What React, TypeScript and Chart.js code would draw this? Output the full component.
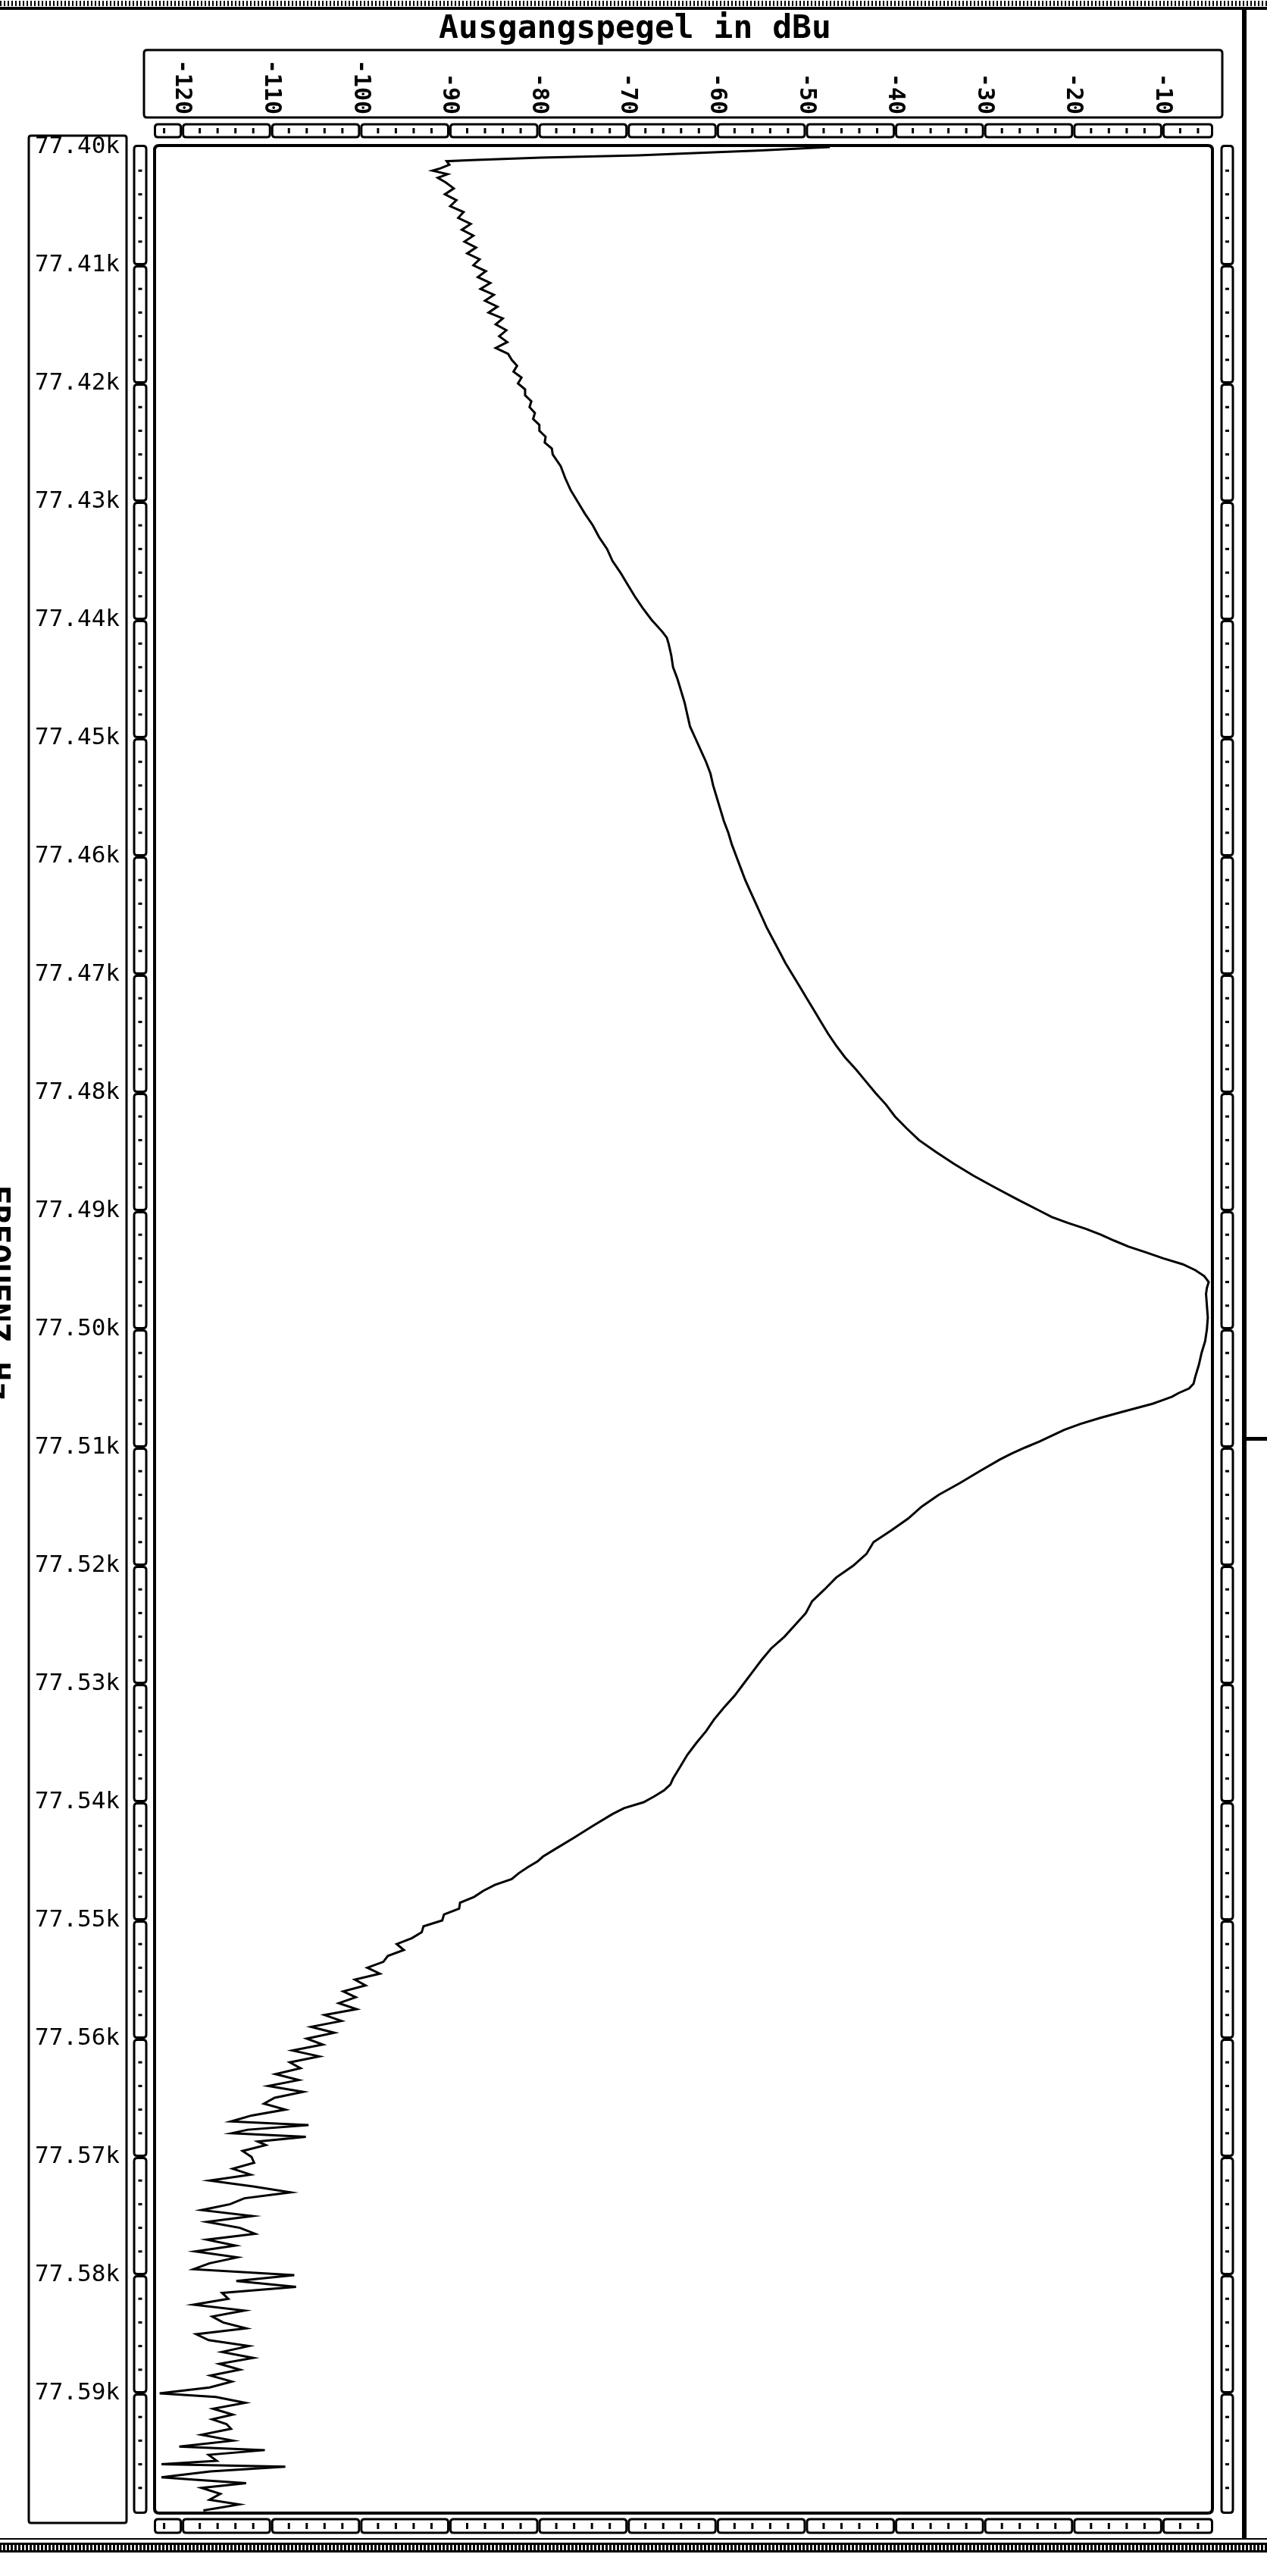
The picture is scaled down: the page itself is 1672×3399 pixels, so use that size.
import React, { useEffect, useRef } from "react";
import { Chart, registerables } from "chart.js";

Chart.register(...registerables);

const PAGE_W = 1672;
const PAGE_H = 3399;

const chartTitle = "Ausgangspegel in dBu";
const freqAxisTitle = "FREQUENZ Hz";

const levelTicks = [-120, -110, -100, -90, -80, -70, -60, -50, -40, -30, -20, -10];
const levelTickLabels = ["-120", "-110", "-100", "-90", "-80", "-70", "-60", "-50", "-40", "-30", "-20", "-10"];
const levelRange = [-122.9, -4.55];

const freqTicks = [
  77400, 77410, 77420, 77430, 77440, 77450, 77460, 77470, 77480, 77490,
  77500, 77510, 77520, 77530, 77540, 77550, 77560, 77570, 77580, 77590,
];
const freqTickLabels = [
  "77.40k", "77.41k", "77.42k", "77.43k", "77.44k", "77.45k", "77.46k", "77.47k", "77.48k", "77.49k",
  "77.50k", "77.51k", "77.52k", "77.53k", "77.54k", "77.55k", "77.56k", "77.57k", "77.58k", "77.59k",
];
const freqRange = [77400, 77600];

// [frequency Hz, level dBu]
const sweepStart: [number, number][] = [
  [77400.0, -47.3], [77400.3, -55.5], [77400.45, -60.4], [77400.7, -68.8], [77400.9, -79.8],
  [77401.1, -87.5], [77401.2, -90.3],
];

const lowerSkirt: [number, number][] = [
  [77401.5, -90.0], [77401.8, -91.0], [77402.0, -91.9], [77402.3, -90.2], [77402.6, -91.3],
  [77403.0, -90.4], [77403.5, -89.5], [77404.0, -90.5], [77404.5, -89.2], [77405.0, -89.9],
  [77405.5, -88.4], [77406.0, -89.0], [77406.5, -87.6], [77407.0, -88.6], [77407.5, -87.3],
  [77408.0, -88.3], [77408.5, -87.0], [77409.0, -88.0], [77409.5, -86.6], [77410.0, -87.3],
  [77410.5, -85.9], [77411.0, -86.8], [77411.5, -85.4], [77412.0, -86.5], [77412.5, -85.0],
  [77413.0, -86.0], [77413.5, -84.6], [77414.0, -85.6], [77414.5, -84.0], [77415.0, -84.8],
  [77415.5, -83.6], [77416.0, -84.4], [77416.5, -83.5], [77417.0, -84.8], [77417.5, -83.4],
  [77418.0, -83.0], [77418.5, -82.4], [77419.0, -82.8], [77419.5, -81.9], [77420.0, -82.3],
  [77420.5, -81.5], [77421.0, -81.5], [77421.5, -80.8], [77422.0, -81.0], [77422.5, -80.4],
  [77423.0, -80.6], [77423.5, -79.9], [77424.0, -79.9], [77424.5, -79.2], [77425.0, -79.3],
  [77425.5, -78.5], [77426.0, -78.4], [77427, -77.5], [77428, -77.0], [77429, -76.4],
  [77430, -75.6], [77431, -74.8], [77432, -73.9], [77433, -73.2], [77434, -72.3],
  [77435, -71.7], [77436, -70.8], [77437, -70.0], [77438, -69.2], [77439, -68.3],
  [77440, -67.3], [77441, -66.1], [77441.5, -65.6], [77442, -65.4], [77443, -65.1],
  [77444, -64.9], [77445, -64.4], [77446, -64.0], [77447, -63.6], [77448, -63.3],
  [77449, -63.0], [77450, -62.4], [77451, -61.8], [77452, -61.2], [77453, -60.7],
  [77454, -60.4], [77455, -60.0], [77456, -59.6], [77457, -59.2], [77458, -58.7],
  [77459, -58.3], [77460, -57.8], [77461, -57.3], [77462, -56.8], [77463, -56.2],
  [77464, -55.6], [77465, -55.0], [77466, -54.4], [77467, -53.7], [77468, -53.0],
  [77469, -52.3], [77470, -51.5], [77471, -50.7], [77472, -49.9], [77473, -49.1],
  [77474, -48.3], [77475, -47.5], [77476, -46.6], [77477, -45.6], [77478, -44.4],
  [77479, -43.3], [77480, -42.2], [77481, -41.0], [77482, -40.0], [77483, -38.7],
  [77484, -37.3], [77485, -35.4], [77486, -33.4], [77487, -31.2], [77488, -28.8],
  [77489, -26.3], [77490, -23.7],
];

const passband: [number, number][] = [
  [77490.5, -22.4], [77491, -20.6], [77491.5, -18.6], [77492, -16.9], [77492.5, -15.4],
  [77493, -13.8], [77493.5, -11.8], [77494, -9.9], [77494.5, -7.7], [77495, -6.3],
  [77495.5, -5.3], [77496, -4.8], [77496.5, -5.0], [77497, -5.1], [77498, -5.0],
  [77499, -4.9], [77500, -5.0], [77500.5, -5.1], [77501, -5.2], [77502, -5.6],
  [77503, -5.9], [77504, -6.3], [77504.6, -6.5], [77505, -7.0], [77505.4, -8.2],
  [77505.7, -8.9], [77506, -10.0],
];

const upperSkirt: [number, number][] = [
  [77506.3, -11.1], [77507, -14.6], [77507.5, -17.0], [77508, -19.2], [77508.5, -21.0],
  [77509, -22.4], [77509.5, -23.8], [77510, -25.4], [77510.5, -26.9], [77511, -28.2],
  [77512, -30.5], [77513, -32.7], [77514, -35.1], [77515, -37.0], [77516, -38.5],
  [77517, -40.4], [77518, -42.4], [77519, -43.2], [77520, -44.7], [77521, -46.6],
  [77522, -47.9], [77523, -49.3], [77524, -50.0], [77525, -51.2], [77526, -52.4],
  [77527, -53.9], [77528, -55.0], [77529, -56.0], [77530, -57.0], [77531, -58.0],
  [77532, -59.2], [77533, -60.3], [77534, -61.2], [77535, -62.3], [77536, -63.3],
  [77537, -64.1], [77538, -64.9], [77538.5, -65.2], [77539, -65.9], [77539.5, -67.0],
  [77540, -68.2], [77540.5, -70.4], [77541, -71.7], [77542, -73.9], [77543, -76.0],
  [77544, -78.2], [77544.6, -79.5], [77545, -80.1],
];

const noiseFloor: [number, number][] = [
  [77545.5, -81.2], [77546, -82.2], [77546.5, -83.0], [77547, -84.9], [77547.5, -86.2],
  [77548, -87.2], [77548.5, -88.8], [77549, -88.9], [77549.5, -90.6], [77550, -90.8],
  [77550.5, -92.9], [77551, -93.1], [77551.5, -94.2], [77552, -95.9], [77552.5, -95.1],
  [77553, -96.9], [77553.5, -97.4], [77554, -99.2], [77554.5, -97.8], [77555, -100.6],
  [77555.5, -99.4], [77556, -101.9], [77556.5, -100.5], [77557, -102.4], [77557.5, -100.4],
  [77558, -104.0], [77558.5, -102.1], [77559, -105.5], [77559.5, -102.9], [77560, -106.0],
  [77560.5, -104.2], [77561, -107.6], [77561.5, -104.6], [77562, -107.9], [77562.5, -106.7],
  [77563, -109.5], [77563.5, -106.9], [77564, -110.3], [77564.5, -106.4], [77565, -109.6],
  [77565.5, -110.8], [77566, -108.4], [77566.5, -112.2], [77567, -114.5], [77567.3, -105.8],
  [77567.7, -112.6], [77568, -114.4], [77568.3, -106.1], [77568.7, -111.5], [77569, -110.6],
  [77569.5, -113.2], [77570, -112.2], [77570.5, -111.9], [77571, -114.3], [77571.5, -112.3],
  [77572, -116.9], [77572.5, -112.0], [77573, -107.8], [77573.5, -113.0], [77574, -114.6],
  [77574.5, -117.8], [77575, -112.1], [77575.5, -117.2], [77576, -113.5], [77576.5, -111.8],
  [77577, -117.2], [77577.5, -114.0], [77578, -118.5], [77578.5, -113.8], [77579, -116.9],
  [77579.5, -118.7], [77580, -107.4], [77580.5, -113.9], [77581, -107.2], [77581.5, -115.5],
  [77582, -114.8], [77582.5, -118.7], [77583, -113.0], [77583.5, -116.6], [77584, -115.4],
  [77584.5, -112.8], [77585, -118.4], [77585.5, -117.0], [77586, -112.5], [77586.5, -115.5],
  [77587, -112.0], [77587.5, -115.8], [77588, -113.5], [77588.5, -116.8], [77589, -114.4],
  [77589.5, -116.9], [77590, -122.5], [77590.3, -116.2], [77590.8, -112.9], [77591.3, -116.5],
  [77591.8, -114.3], [77592.2, -116.6], [77592.6, -115.0], [77593, -114.5], [77593.5, -117.8],
  [77594, -114.3], [77594.5, -120.3], [77594.8, -110.7], [77595.2, -117.0], [77595.7, -116.1],
  [77596, -122.3], [77596.2, -108.4], [77596.6, -116.8], [77597.1, -122.3], [77597.3, -118.5],
  [77597.6, -112.8], [77598, -117.8], [77598.5, -115.7], [77599, -116.9], [77599.4, -113.6],
  [77599.9, -117.6],
];

const MONO = '"DejaVu Sans Mono", "Liberation Mono", monospace';

function rr(ctx: CanvasRenderingContext2D, x: number, y: number, w: number, h: number, r: number) {
  ctx.beginPath();
  ctx.moveTo(x + r, y);
  ctx.lineTo(x + w - r, y);
  ctx.quadraticCurveTo(x + w, y, x + w, y + r);
  ctx.lineTo(x + w, y + h - r);
  ctx.quadraticCurveTo(x + w, y + h, x + w - r, y + h);
  ctx.lineTo(x + r, y + h);
  ctx.quadraticCurveTo(x, y + h, x, y + h - r);
  ctx.lineTo(x, y + r);
  ctx.quadraticCurveTo(x, y, x + r, y);
  ctx.closePath();
}

const decorPlugin = {
  id: "decor",
  beforeDraw(chart: any) {
    const ctx: CanvasRenderingContext2D = chart.ctx;
    ctx.save();
    ctx.fillStyle = "#ffffff";
    ctx.fillRect(0, 0, chart.width, chart.height);
    ctx.restore();
  },
  beforeDatasetsDraw(chart: any) {
    const ctx: CanvasRenderingContext2D = chart.ctx;
    const area = chart.chartArea;
    const xs = chart.scales.x;
    const ys = chart.scales.y;
    const W = chart.width;
    ctx.save();
    ctx.fillStyle = "#000";
    ctx.strokeStyle = "#000";

    // top band
    ctx.fillRect(0, 9, W, 4);
    for (let x = 0; x < W; x += 5) ctx.fillRect(x, 1, 2, 7);

    // bottom band
    ctx.fillRect(0, 3349, W, 2);
    ctx.fillRect(0, 3355, W, 13);
    ctx.fillStyle = "#fff";
    for (let x = 2; x < W; x += 5) ctx.fillRect(x, 3358, 2, 7);
    ctx.fillStyle = "#000";

    // right vertical bar and stub
    ctx.fillRect(1639, 13, 6, 3338);
    ctx.fillRect(1645, 1896, W - 1645, 5);

    // title
    ctx.font = `bold 43px ${MONO}`;
    ctx.textAlign = "center";
    ctx.textBaseline = "alphabetic";
    ctx.fillText(chartTitle, 838, 50);

    // frequency axis title (rotated, partly off page)
    ctx.save();
    ctx.translate(-17, 1706);
    ctx.rotate(Math.PI / 2);
    ctx.textAlign = "center";
    ctx.textBaseline = "alphabetic";
    ctx.fillText(freqAxisTitle, 0, 0);
    ctx.restore();

    // top label box
    ctx.lineWidth = 3;
    rr(ctx, 190, 66, 1423, 89, 4);
    ctx.stroke();
    ctx.font = `bold 30px ${MONO}`;
    levelTicks.forEach((v, i) => {
      const px = xs.getPixelForValue(v);
      ctx.save();
      ctx.translate(px, 151);
      ctx.rotate(Math.PI / 2);
      ctx.textAlign = "right";
      ctx.textBaseline = "middle";
      ctx.fillText(levelTickLabels[i], 0, 0);
      ctx.restore();
    });

    // horizontal rulers
    const hBounds = [area.left - 3, ...levelTicks.map((v) => xs.getPixelForValue(v)), area.right + 3];
    const drawHRuler = (y0: number, y1: number) => {
      ctx.lineWidth = 3;
      for (let i = 0; i < hBounds.length - 1; i++) {
        const a = hBounds[i];
        const b = hBounds[i + 1];
        rr(ctx, a + 1.5, y0, b - a - 3, y1 - y0, 4);
        ctx.stroke();
      }
      const step = (levelTicks[1] - levelTicks[0]) / 5;
      for (let v = levelTicks[0] - 10; v <= levelTicks[levelTicks.length - 1] + 10; v += step) {
        if (Math.abs(Math.round(v / 10) * 10 - v) < 1e-6) continue;
        if (v <= xs.min || v >= xs.max) continue;
        const px = xs.getPixelForValue(v);
        ctx.fillRect(px - 1.5, y0 + 5, 3, y1 - y0 - 10);
      }
    };
    drawHRuler(164, 181);
    drawHRuler(3324, 3342);

    // vertical rulers
    const vBounds = [area.top - 3, ...freqTicks.slice(1).map((v) => ys.getPixelForValue(v)), area.bottom + 3];
    const drawVRuler = (x0: number, x1: number) => {
      ctx.lineWidth = 3;
      for (let i = 0; i < vBounds.length - 1; i++) {
        const a = vBounds[i];
        const b = vBounds[i + 1];
        rr(ctx, x0, a + 1.5, x1 - x0, b - a - 3, 4);
        ctx.stroke();
      }
      const step = (freqTicks[1] - freqTicks[0]) / 5;
      const cx = (x0 + x1) / 2;
      for (let v = freqTicks[0]; v <= freqTicks[freqTicks.length - 1] + 10; v += step) {
        if (Math.abs(Math.round(v / 10) * 10 - v) < 1e-6) continue;
        const py = ys.getPixelForValue(v);
        ctx.fillRect(cx - 2.5, py - 1.5, 5, 3);
      }
    };
    drawVRuler(177, 193);
    drawVRuler(1612, 1627);

    // left label box
    ctx.lineWidth = 3;
    rr(ctx, 38, 179, 129, 3150, 3);
    ctx.stroke();
    ctx.font = `31px ${MONO}`;
    ctx.textAlign = "left";
    ctx.textBaseline = "middle";
    freqTicks.forEach((v, i) => {
      ctx.fillText(freqTickLabels[i], 46, ys.getPixelForValue(v));
    });

    // plot frame
    ctx.lineWidth = 4;
    rr(ctx, area.left - 2, area.top - 2, area.right - area.left + 4, area.bottom - area.top + 4, 6);
    ctx.stroke();
    ctx.restore();
  },
};

export default function App() {
  const canvasRef = useRef<HTMLCanvasElement | null>(null);

  useEffect(() => {
    document.body.style.margin = "0";
    document.body.style.overflow = "hidden";
    const canvas = canvasRef.current;
    if (!canvas) return;
    const trace = [...sweepStart, ...lowerSkirt, ...passband, ...upperSkirt, ...noiseFloor].map(
      ([f, v]) => ({ x: v, y: f })
    );
    const chart = new Chart(canvas, {
      type: "scatter",
      data: {
        datasets: [
          {
            data: trace,
            showLine: true,
            borderColor: "#000",
            borderWidth: 3,
            pointRadius: 0,
            pointHoverRadius: 0,
            tension: 0,
            fill: false,
          },
        ],
      },
      options: {
        responsive: false,
        animation: false,
        devicePixelRatio: 1,
        events: [],
        layout: { padding: { left: 206, right: PAGE_W - 1598, top: 194, bottom: PAGE_H - 3314 } },
        plugins: { legend: { display: false }, tooltip: { enabled: false }, title: { display: false } },
        scales: {
          x: { type: "linear", display: false, min: levelRange[0], max: levelRange[1] },
          y: { type: "linear", display: false, min: freqRange[0], max: freqRange[1], reverse: true },
        },
      },
      plugins: [decorPlugin],
    } as any);
    return () => chart.destroy();
  }, []);

  return (
    <div style={{ position: "absolute", left: 0, top: 0, width: PAGE_W, height: PAGE_H, background: "#fff" }}>
      <canvas
        ref={canvasRef}
        width={PAGE_W}
        height={PAGE_H}
        style={{ display: "block", width: PAGE_W, height: PAGE_H }}
      />
    </div>
  );
}
